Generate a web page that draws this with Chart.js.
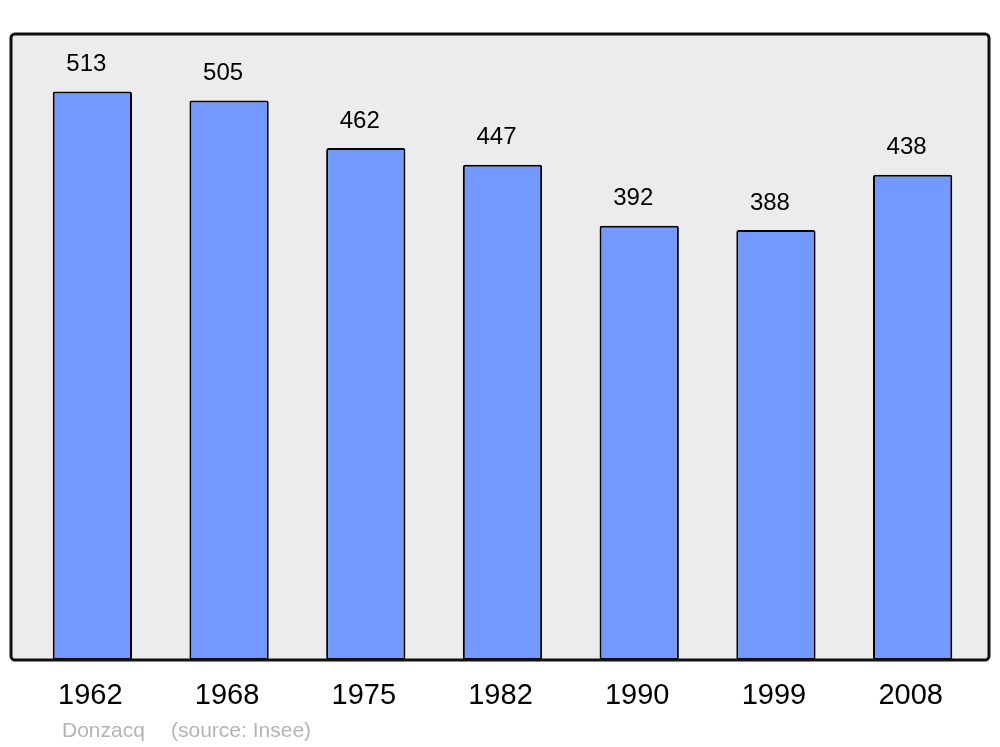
<!DOCTYPE html>
<html>
<head>
<meta charset="utf-8">
<script src="https://cdn.jsdelivr.net/npm/chart.js@4"></script>
<style>
  html, body { margin: 0; padding: 0; background: #fff; }
  #wrap { width: 1000px; height: 747px; }
</style>
</head>
<body>
<div id="wrap"><canvas id="popChart" width="1000" height="747"></canvas></div>
<script>
// Population by census year
const years = ['1962', '1968', '1975', '1982', '1990', '1999', '2008'];
const population = [513, 505, 462, 447, 392, 388, 438];
const yMax = 565;

const FONT = '"Liberation Sans", Arial, sans-serif';

// Grey frame behind the bars, labels on top
const framePlugin = {
    id: 'frame',
    beforeDraw(chart) {
        const ctx = chart.ctx;
        ctx.save();
        ctx.beginPath();
        ctx.roundRect(11, 34, 978, 626, 4);
        ctx.fillStyle = '#ececec';
        ctx.fill();
        ctx.restore();
    },
    afterDatasetsDraw(chart) {
        const ctx = chart.ctx;
        const xs = chart.scales.x;
        const ys = chart.scales.y;
        ctx.save();
        ctx.beginPath();
        ctx.roundRect(11, 34, 978, 626, 4);
        ctx.lineWidth = 3;
        ctx.strokeStyle = '#111';
        ctx.stroke();

        ctx.fillStyle = '#000';
        ctx.textAlign = 'center';
        ctx.textBaseline = 'middle';
        ctx.font = '24px ' + FONT;
        population.forEach((v, i) => {
            ctx.fillText(String(v), xs.getPixelForValue(i) - 6, ys.getPixelForValue(v) - 27);
        });
        ctx.font = '29px ' + FONT;
        years.forEach((y, i) => {
            ctx.fillText(y, xs.getPixelForValue(i) - 2, 696);
        });
        ctx.textAlign = 'left';
        ctx.font = '21px ' + FONT;
        ctx.fillStyle = '#b4b4b4';
        ctx.fillText('Donzacq', 62, 731);
        ctx.fillText('(source: Insee)', 171, 731);
        ctx.restore();
    }
};

const config = {
    type: 'bar',
    data: {
        labels: years,
        datasets: [{
            data: population,
            backgroundColor: '#7399ff',
            borderColor: '#000',
            borderWidth: 2,
            borderRadius: 2,
            borderSkipped: false,
            categoryPercentage: 0.58,
            barPercentage: 1
        }]
    },
    options: {
        responsive: false,
        animation: false,
        layout: { padding: { left: 24, right: 19, top: 34, bottom: 87 } },
        plugins: { legend: { display: false }, tooltip: { enabled: false } },
        scales: {
            x: { display: false },
            y: { display: false, min: 0, max: yMax }
        }
    },
    plugins: [framePlugin]
};

const popChart = new Chart(document.getElementById('popChart'), config);
</script>
</body>
</html>
